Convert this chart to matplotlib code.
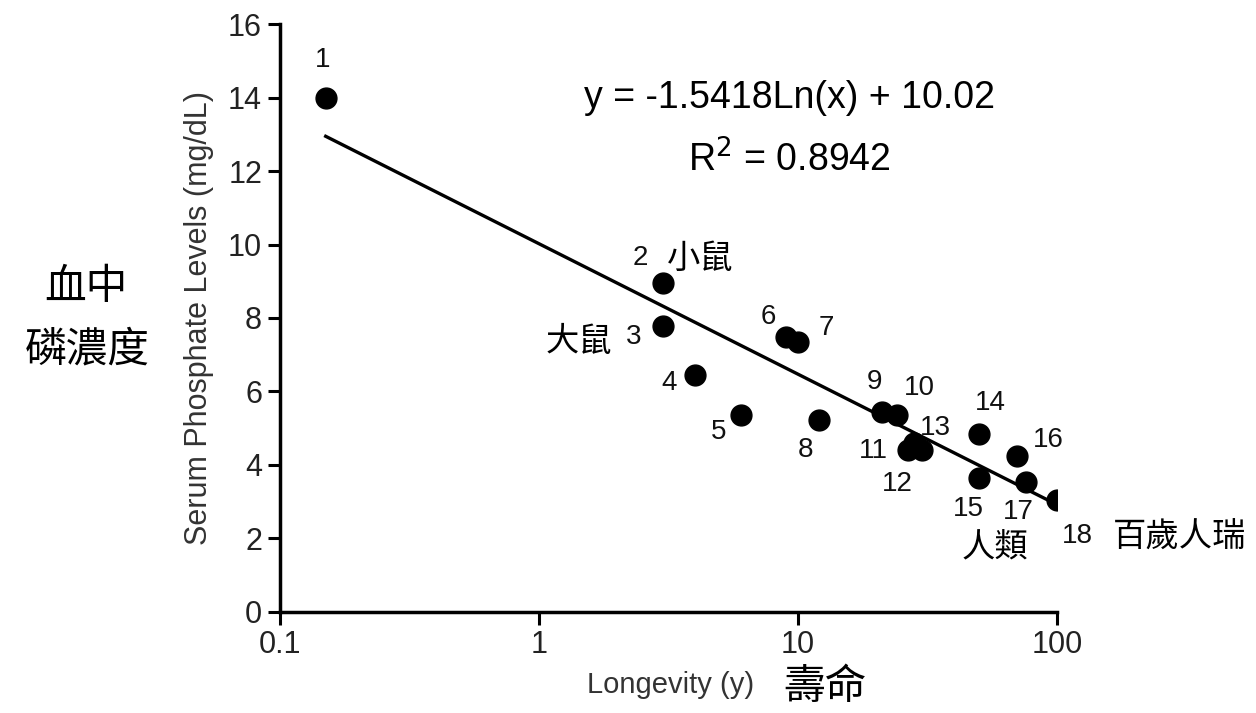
import numpy as np
import matplotlib
matplotlib.use("Agg")
import matplotlib.pyplot as plt

plt.rcParams['font.family'] = ['Liberation Sans', 'DejaVu Sans']

# data
labels = ['1', '2', '3', '4', '5', '6', '7', '8', '9', '10',
          '11', '12', '13', '14', '15', '16', '17', '18']
longevity = [0.15, 3, 3, 4, 6, 9, 10, 12, 21, 24,
             26.5, 30, 28, 50, 50, 70, 76, 100]
phosphate = [14.0, 8.95, 7.78, 6.45, 5.35, 7.48, 7.35, 5.22, 5.45, 5.35,
             4.4, 4.4, 4.6, 4.85, 3.65, 4.25, 3.55, 3.05]

# label offsets from each point, in pixels (right, up)
label_dx = [-3, -22, -29, -26, -22, -18, 28, -13, -7, 23,
            -34, -24, 22, 11, -11, 31, -8, 20]
label_dy = [38, 25, -11, -8, -17, 20, 14, -30, 30, 27,
            -1, -34, 15, 31, -31, 16, -30, -36]

# logarithmic fit shown on the chart
fit_a = -1.5418
fit_b = 10.02
fit_r2 = 0.8942

xticks = [0.1, 1, 10, 100]
xtick_labels = ['0.1', '1', '10', '100']
yticks = [0, 2, 4, 6, 8, 10, 12, 14, 16]

fig = plt.figure(figsize=(12.56, 7.13), dpi=100)
ax = fig.add_axes([0.223, 0.1417, 0.6186, 0.8246])

ax.plot(longevity, phosphate, 'o', color='black', markersize=15, zorder=3)

xf = np.logspace(np.log10(min(longevity)), np.log10(max(longevity)), 200)
ax.plot(xf, fit_a * np.log(xf) + fit_b, color='black', lw=2.4, zorder=2)

ax.set_xscale('log')
ax.set_xlim(0.1, 100)
ax.set_ylim(0, 16)
ax.set_xticks(xticks)
ax.set_xticklabels(xtick_labels)
ax.minorticks_off()
ax.set_yticks(yticks)

for s in ['top', 'right']:
    ax.spines[s].set_visible(False)
for s in ['left', 'bottom']:
    ax.spines[s].set_linewidth(2.5)
ax.tick_params(axis='both', width=2.2, length=9, labelsize=22, pad=4,
               labelcolor='#222222')

ax.set_ylabel('Serum Phosphate Levels (mg/dL)', fontsize=22, color='#333333',
              labelpad=10)
ax.set_xlabel('Longevity (y)', fontsize=21, color='#333333', labelpad=8,
              x=0.503)

for lab, x, y, dx, dy in zip(labels, longevity, phosphate, label_dx, label_dy):
    ax.annotate(lab, (x, y), xytext=(dx * 0.72, dy * 0.72),
                textcoords='offset points', ha='center', va='center',
                fontsize=20, color='#111111')

ax.text(0.656, 0.874, 'y = %.4fLn(x) + %.2f' % (fit_a, fit_b),
        transform=ax.transAxes, ha='center', va='center', fontsize=27)
ax.text(0.656, 0.769, 'R$^2$ = %.4f' % fit_r2,
        transform=ax.transAxes, ha='center', va='center', fontsize=27)

cjk = ['Noto Sans CJK TC', 'DejaVu Sans']
fig.text(86 / 1256, 1 - 287 / 713, '血中', family=cjk, fontsize=30,
         ha='center', va='center')
fig.text(87 / 1256, 1 - 350 / 713, '磷濃度', family=cjk, fontsize=30,
         ha='center', va='center')
fig.text(825 / 1256, 1 - 688 / 713, '壽命', family=cjk, fontsize=30,
         ha='center', va='center')
fig.text(700 / 1256, 1 - 258 / 713, '小鼠', family=cjk, fontsize=24,
         ha='center', va='center')
fig.text(579 / 1256, 1 - 342 / 713, '大鼠', family=cjk, fontsize=24,
         ha='center', va='center')
fig.text(995 / 1256, 1 - 547 / 713, '人類', family=cjk, fontsize=24,
         ha='center', va='center')
fig.text(1180 / 1256, 1 - 537 / 713, '百歲人瑞', family=cjk, fontsize=24,
         ha='center', va='center')

fig.savefig('out.png', dpi=100)
